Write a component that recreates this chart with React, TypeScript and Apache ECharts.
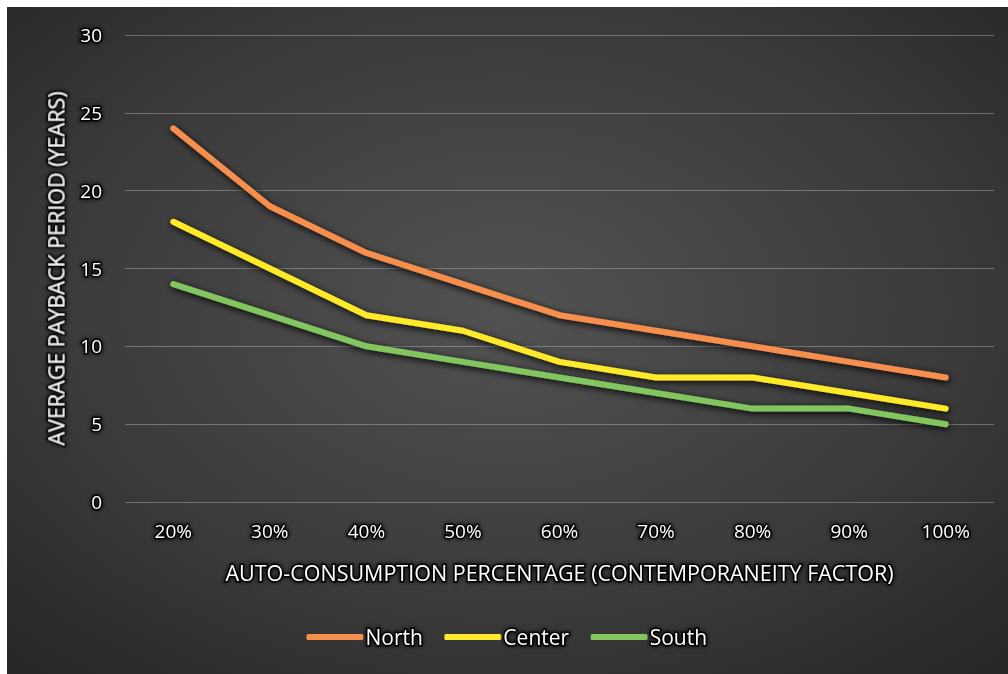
import React, { useEffect, useRef } from "react";
import * as echarts from "echarts";

const categories = ["20%", "30%", "40%", "50%", "60%", "70%", "80%", "90%", "100%"];
const north = [24, 19, 16, 14, 12, 11, 10, 9, 8];
const center = [18, 15, 12, 11, 9, 8, 8, 7, 6];
const south = [14, 12, 10, 9, 8, 7, 6, 6, 5];
const yTicks = { min: 0, max: 30, interval: 5 };

const FONT = "'Open Sans', 'Noto Sans', sans-serif";
// white text with a dark outline/glow
const glow = {
  textBorderColor: "rgba(0,0,0,0.85)",
  textBorderWidth: 3,
  textShadowColor: "#000",
  textShadowBlur: 4,
};

function lineSeries(name: string, data: number[], color: string) {
  return {
    name,
    type: "line",
    data,
    symbol: "none",
    lineStyle: {
      color,
      width: 6,
      cap: "round",
      join: "round",
      shadowColor: "rgba(0,0,0,1)",
      shadowBlur: 7,
      shadowOffsetX: 1,
      shadowOffsetY: 2,
    },
    itemStyle: { color },
  };
}

export default function App() {
  const ref = useRef<HTMLDivElement>(null);
  useEffect(() => {
    if (!ref.current) return;
    const chart = echarts.init(ref.current, undefined, { renderer: "svg" });
    chart.setOption({
      animation: false,
      backgroundColor: new echarts.graphic.RadialGradient(0.5, 0.45, 0.75, [
        { offset: 0, color: "#525252" },
        { offset: 0.6, color: "#3a3a3a" },
        { offset: 1, color: "#252525" },
      ]),
      grid: { left: 118, right: 14, top: 28, bottom: 172 },
      legend: {
        bottom: 20,
        left: "center",
        itemWidth: 57,
        itemHeight: 6,
        itemGap: 20,
        icon: "roundRect",
        textStyle: { color: "#fff", fontSize: 21, fontFamily: FONT, padding: [0, 0, 0, -3], ...glow },
        data: ["North", "Center", "South"],
      },
      xAxis: {
        type: "category",
        data: categories,
        boundaryGap: true,
        axisLine: { show: false },
        axisTick: { show: false },
        axisLabel: { color: "#fff", fontSize: 19, fontFamily: FONT, margin: 19, ...glow },
        name: "AUTO-CONSUMPTION PERCENTAGE (CONTEMPORANEITY FACTOR)",
        nameLocation: "middle",
        nameGap: 59,
        nameTextStyle: { color: "#fff", fontSize: 21.5, fontFamily: FONT, ...glow },
      },
      yAxis: {
        type: "value",
        min: yTicks.min,
        max: yTicks.max,
        interval: yTicks.interval,
        axisLine: { show: false },
        axisTick: { show: false },
        splitLine: { lineStyle: { color: "rgba(255,255,255,0.28)", width: 1 } },
        axisLabel: { color: "#fff", fontSize: 19, fontFamily: FONT, margin: 23, ...glow },
        name: "AVERAGE PAYBACK PERIOD (YEARS)",
        nameLocation: "middle",
        nameGap: 55,
        nameRotate: 90,
        nameTextStyle: { color: "#fff", fontSize: 21.5, fontFamily: FONT, ...glow },
      },
      series: [
        lineSeries("North", north, "#F68E4E"),
        lineSeries("Center", center, "#FFEA2C"),
        lineSeries("South", south, "#83C55E"),
      ],
    });
    return () => chart.dispose();
  }, []);
  return (
    <div
      ref={ref}
      style={{ position: "fixed", left: 7, top: 7, width: 1001, height: 667 }}
    />
  );
}
